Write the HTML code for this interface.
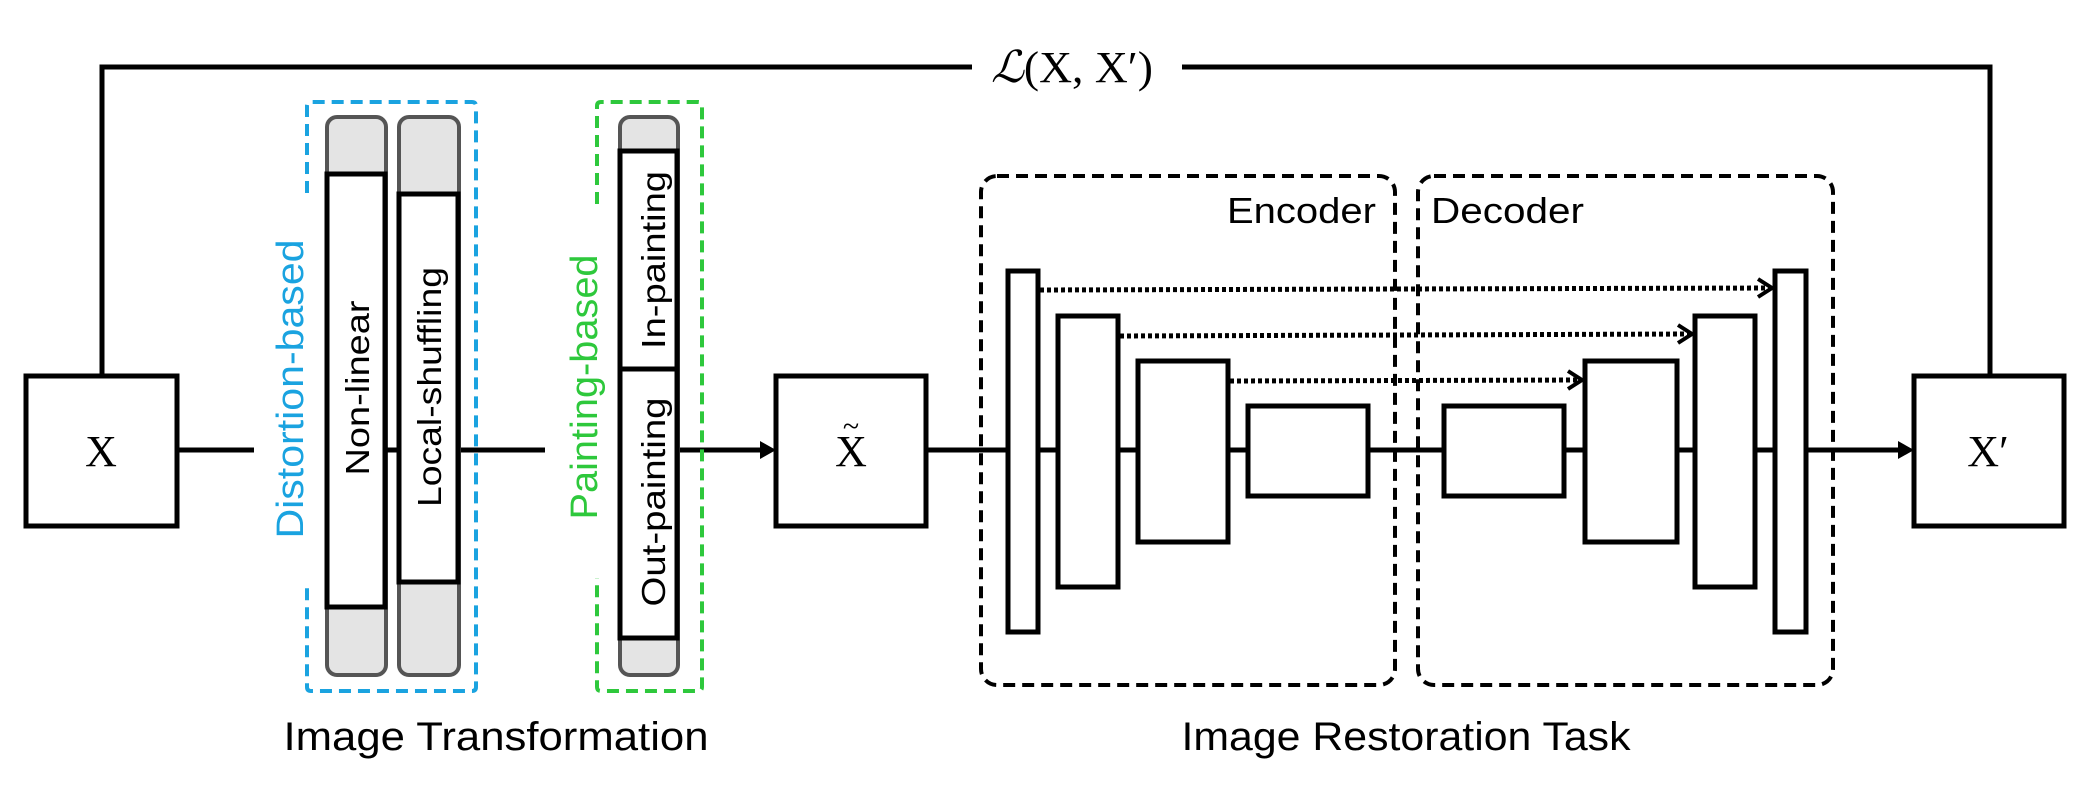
<!DOCTYPE html>
<html><head><meta charset="utf-8"><style>
html,body{margin:0;padding:0;background:#fff;}
svg{display:block;}
.s{font-family:"Liberation Sans",sans-serif;}
.n{font-family:"Liberation Sans Narrow","Liberation Sans",sans-serif;}
.r{font-family:"Liberation Serif",serif;}
</style></head><body>
<svg width="2093" height="799" viewBox="0 0 2093 799" xmlns="http://www.w3.org/2000/svg">
<g fill="none" stroke="#000" stroke-width="5">
  <polyline points="102,376 102,67 972,67"/>
  <polyline points="1182,67 1990,67 1990,376"/>
  <line x1="177" y1="450" x2="254" y2="450"/>
  <line x1="384" y1="450" x2="400" y2="450"/>
  <line x1="458" y1="450" x2="545" y2="450"/>
  <line x1="678" y1="450" x2="762" y2="450"/>
  <line x1="926" y1="450" x2="1900" y2="450"/>
</g>
<polygon points="760,441 776,450 760,459" fill="#000"/>
<polygon points="1898,441 1914,450 1898,459" fill="#000"/>

<g fill="#fff" stroke="#000" stroke-width="5">
  <rect x="26" y="376" width="151" height="150"/>
  <rect x="776" y="376" width="150" height="150"/>
  <rect x="1914" y="376" width="150" height="150"/>
</g>
<text x="101" y="466" class="r" font-size="44" text-anchor="middle">X</text>
<text x="851" y="466" class="r" font-size="44" text-anchor="middle">X</text>
<text x="851" y="436" class="r" font-size="30" text-anchor="middle">~</text>
<text x="1988" y="466" class="r" font-size="44" text-anchor="middle">X′</text>
<text x="1072" y="82" class="r" font-size="44" text-anchor="middle" font-style="italic" textLength="162" lengthAdjust="spacingAndGlyphs">ℒ<tspan font-style="normal">(X, X′)</tspan></text>

<g fill="none" stroke="#1aa3e0" stroke-width="4" stroke-dasharray="12,7">
  <path d="M307,193 L307,106 Q307,102 311,102 L472,102 Q476,102 476,106 L476,687 Q476,691 472,691 L311,691 Q307,691 307,687 L307,586"/>
</g>
<g fill="none" stroke="#2ec83c" stroke-width="4" stroke-dasharray="12,7">
  <path d="M597,204 L597,106 Q597,102 601,102 L698,102 Q702,102 702,106 L702,687 Q702,691 698,691 L601,691 Q597,691 597,687 L597,578"/>
</g>

<g fill="#e4e4e4" stroke="#555" stroke-width="4">
  <rect x="327" y="117" width="59" height="558" rx="10"/>
  <rect x="399" y="117" width="60" height="558" rx="10"/>
  <rect x="620" y="117" width="58" height="558" rx="10"/>
</g>
<g fill="#fff" stroke="#000" stroke-width="5">
  <rect x="327" y="174" width="58" height="433"/>
  <rect x="399" y="194" width="59" height="388"/>
  <rect x="620" y="151" width="57" height="218"/>
  <rect x="620" y="369" width="57" height="269"/>
</g>
<line x1="386" y1="450" x2="399" y2="450" stroke="#000" stroke-width="5"/>

<text class="s" font-size="33" text-anchor="middle" transform="translate(369,388) rotate(-90)" textLength="175" lengthAdjust="spacingAndGlyphs">Non-linear</text>
<text class="s" font-size="33" text-anchor="middle" transform="translate(441,387) rotate(-90)" textLength="240" lengthAdjust="spacingAndGlyphs">Local-shuffling</text>
<text class="s" font-size="33" text-anchor="middle" transform="translate(665,260) rotate(-90)" textLength="178" lengthAdjust="spacingAndGlyphs">In-painting</text>
<text class="s" font-size="33" text-anchor="middle" transform="translate(665,502) rotate(-90)" textLength="209" lengthAdjust="spacingAndGlyphs">Out-painting</text>
<text class="s" font-size="38" fill="#1aa3e0" text-anchor="middle" transform="translate(303,389) rotate(-90)" textLength="299" lengthAdjust="spacingAndGlyphs">Distortion-based</text>
<text class="s" font-size="38" fill="#2ec83c" text-anchor="middle" transform="translate(597,387) rotate(-90)" textLength="265" lengthAdjust="spacingAndGlyphs">Painting-based</text>

<g fill="none" stroke="#000" stroke-width="4" stroke-dasharray="12,7">
  <rect x="981" y="176" width="414" height="509" rx="16"/>
  <rect x="1418" y="176" width="415" height="509" rx="16"/>
</g>
<text x="1376" y="223" class="n" font-size="36" text-anchor="end" textLength="149" lengthAdjust="spacingAndGlyphs">Encoder</text>
<text x="1431" y="223" class="n" font-size="36" textLength="153" lengthAdjust="spacingAndGlyphs">Decoder</text>

<g fill="#fff" stroke="#000" stroke-width="5">
  <rect x="1008" y="271" width="30" height="361"/>
  <rect x="1058" y="316" width="60" height="271"/>
  <rect x="1138" y="361" width="90" height="181"/>
  <rect x="1248" y="406" width="120" height="90"/>
  <rect x="1444" y="406" width="120" height="90"/>
  <rect x="1585" y="361" width="92" height="181"/>
  <rect x="1695" y="316" width="60" height="271"/>
  <rect x="1775" y="271" width="31" height="361"/>
</g>
<g fill="none" stroke="#000" stroke-width="5">
  <line x1="1040" y1="290" x2="1770" y2="288" stroke-dasharray="4,3"/>
  <line x1="1120" y1="336" x2="1690" y2="334" stroke-dasharray="4,3"/>
  <line x1="1230" y1="381" x2="1580" y2="380" stroke-dasharray="4,3"/>
  <polyline points="1758,279 1772,288 1758,297" stroke-width="4"/>
  <polyline points="1678,325 1692,334 1678,343" stroke-width="4"/>
  <polyline points="1568,371 1582,380 1568,389" stroke-width="4"/>
</g>

<text x="496" y="750" class="n" font-size="40" text-anchor="middle" textLength="425" lengthAdjust="spacingAndGlyphs">Image Transformation</text>
<text x="1406" y="750" class="n" font-size="40" text-anchor="middle" textLength="449" lengthAdjust="spacingAndGlyphs">Image Restoration Task</text>
</svg>
</body></html>
